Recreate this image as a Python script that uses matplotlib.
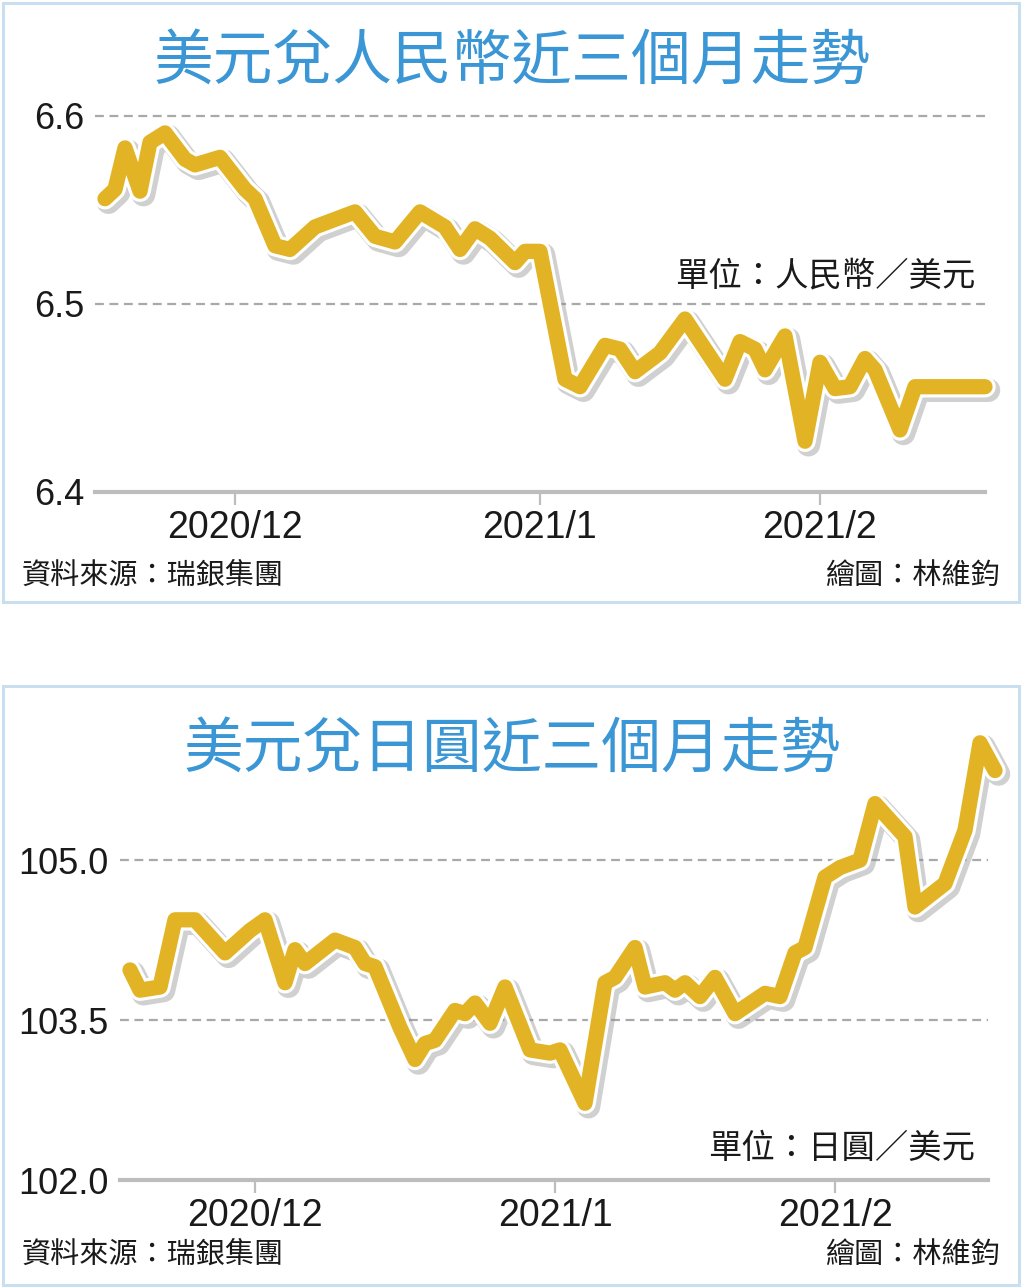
"""
Two panels: USD/CNY and USD/JPY over the last three months (newspaper style).
"""

import matplotlib
matplotlib.use('Agg')
import matplotlib.pyplot as plt
import matplotlib.patheffects as pe
from matplotlib.patches import Rectangle

plt.rcParams['font.family'] = ['Noto Sans CJK TC', 'DejaVu Sans']

W, H = 1024, 1288

# USD/CNY, x = trading-day index
cny_day = [2, 4, 6, 9, 11, 14, 18, 20, 25, 30, 32, 36, 39, 44, 52, 56, 60, 65,
           70, 73, 76, 79, 84, 86, 89, 94, 97, 102, 105, 108, 113, 118, 122,
           126, 129, 132, 134, 138, 142, 145, 148, 151, 154, 156, 161, 164, 178]
cny_rate = [6.556, 6.561, 6.583, 6.560, 6.586, 6.591, 6.577, 6.574, 6.578,
            6.561, 6.556, 6.531, 6.529, 6.541, 6.549, 6.536, 6.533, 6.549,
            6.541, 6.529, 6.540, 6.535, 6.522, 6.528, 6.528, 6.460, 6.456,
            6.478, 6.476, 6.464, 6.474, 6.492, 6.476, 6.460, 6.480, 6.476,
            6.465, 6.483, 6.427, 6.469, 6.455, 6.456, 6.471, 6.465, 6.433,
            6.456, 6.456]
cny_ticks = [28, 89, 145]
cny_yticks = [6.4, 6.5, 6.6]

# USD/JPY
jpy_day = [2, 4, 8, 11, 15, 21, 26, 29, 33, 35, 37, 43, 47, 49, 51, 56, 59, 61,
           63, 67, 69, 71, 74, 77, 82, 86, 88, 93, 97, 99, 103, 105, 109, 111,
           113, 116, 119, 123, 129, 132, 135, 137, 141, 144, 148, 151, 157,
           159, 165, 169, 172, 175]
jpy_rate = [103.97, 103.78, 103.81, 104.44, 104.44, 104.13, 104.34, 104.44,
            103.85, 104.16, 104.03, 104.25, 104.18, 104.03, 104.00, 103.43,
            103.13, 103.28, 103.31, 103.59, 103.56, 103.66, 103.47, 103.81,
            103.22, 103.19, 103.22, 102.72, 103.85, 103.90, 104.18, 103.81,
            103.85, 103.78, 103.85, 103.72, 103.90, 103.56, 103.75, 103.72,
            104.13, 104.18, 104.84, 104.93, 105.00, 105.53, 105.22, 104.56,
            104.78, 105.28, 106.10, 105.84]
jpy_ticks = [27, 87, 143]
jpy_yticks = [102.0, 103.5, 105.0]

month_labels = ['2020/12', '2021/1', '2021/2']

GOLD = '#e2b425'
BLUE = '#3a96d4'
GRID = '#a9a9a9'
BASE = '#bdbdbd'
TXT = '#1a1a1a'
NUM_FONT = ['Liberation Sans', 'DejaVu Sans']


def fx(px):
    return px / W


def fy(py):
    return 1 - py / H


def panel(fig, top, bottom, left, right, base_y, top_y, title, title_y,
          unit, unit_y, foot_y, day, rate, ticks, yticks, ylim, xmax, fmt):
    # panel frame
    fig.patches.append(Rectangle((fx(3), fy(bottom)), fx(1016), (bottom - top) / H,
                                 transform=fig.transFigure, fill=False,
                                 edgecolor='#c9dff0', linewidth=2.2))

    ax = fig.add_axes([fx(left), fy(base_y), fx(right - left), (base_y - top_y) / H])
    ax.set_xlim(0, xmax)
    ax.set_ylim(*ylim)
    for s in ('top', 'right', 'left'):
        ax.spines[s].set_visible(False)
    ax.spines['bottom'].set_color(BASE)
    ax.spines['bottom'].set_linewidth(3)

    for v in yticks[1:]:
        ax.axhline(v, color=GRID, lw=1.6, ls=(0, (4, 2.5)), zorder=1)

    ax.plot(day, rate, color=GOLD, lw=11, solid_joinstyle='round',
            solid_capstyle='round', zorder=3, clip_on=False,
            path_effects=[pe.SimpleLineShadow(offset=(2.5, -2.5), shadow_color='#8a8a8a',
                                              alpha=0.4, linewidth=17),
                          pe.Stroke(linewidth=15.5, foreground='white'),
                          pe.Normal()])

    ax.set_xticks(ticks)
    ax.set_xticklabels(month_labels, fontsize=27, color=TXT, family=NUM_FONT)
    ax.tick_params(axis='x', length=9, width=1.6, color=BASE, pad=4)
    ax.set_yticks(yticks)
    ax.set_yticklabels([fmt.format(v) for v in yticks], fontsize=26, color=TXT,
                       family=NUM_FONT)
    ax.tick_params(axis='y', length=0, pad=8)

    fig.text(fx(512), fy(title_y), title, ha='center', va='center',
             fontsize=43, color=BLUE, fontweight='medium')
    fig.text(fx(975), fy(unit_y), unit, ha='right', va='center',
             fontsize=24, color=TXT)
    fig.text(fx(22), fy(foot_y), '資料來源：瑞銀集團', ha='left', va='center',
             fontsize=21, color=TXT)
    fig.text(fx(1000), fy(foot_y), '繪圖：林維鈞', ha='right', va='center',
             fontsize=21, color=TXT)
    return ax


def main():
    fig = plt.figure(figsize=(W / 100, H / 100), dpi=100)
    fig.patch.set_facecolor('white')

    panel(fig, 3, 602, 95, 985, 492, 100, '美元兌人民幣近三個月走勢', 62,
          '單位：人民幣／美元', 276, 576, cny_day, cny_rate, cny_ticks,
          cny_yticks, (6.4, 6.6085), 178, '{:.1f}')

    panel(fig, 686, 1285, 120, 988, 1180, 730, '美元兌日圓近三個月走勢', 750,
          '單位：日圓／美元', 1148, 1255, jpy_day, jpy_rate, jpy_ticks,
          jpy_yticks, (102.0, 106.22), 173.6, '{:.1f}')

    fig.savefig('out.png', dpi=100, facecolor='white')


if __name__ == '__main__':
    main()
